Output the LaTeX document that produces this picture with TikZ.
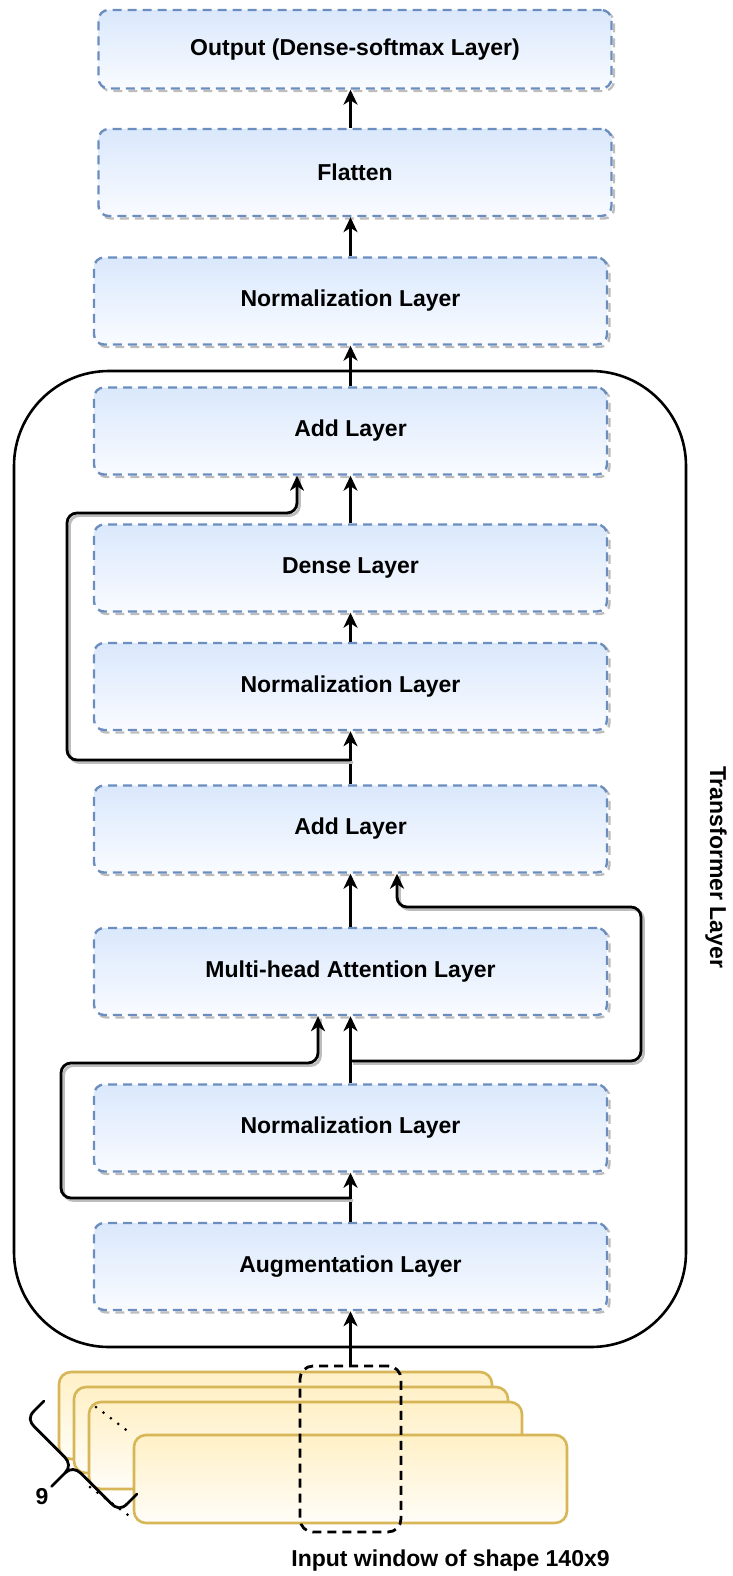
\documentclass[tikz,border=0pt]{standalone}
\usepackage{fontspec}
\setmainfont{Liberation Sans}
\usetikzlibrary{arrows.meta,calc}
\definecolor{bluetop}{HTML}{DAE8FC}
\definecolor{bluebot}{HTML}{F9FBFF}
\definecolor{blueline}{HTML}{6C8EBF}
\definecolor{yeltop}{HTML}{FFF0C6}
\definecolor{yelbot}{HTML}{FFFDF8}
\definecolor{yelline}{HTML}{D6B656}
\definecolor{shadowgray}{HTML}{BDBDBD}
\tikzset{
  lab/.style={font=\bfseries\fontsize{23}{27}\selectfont, inner sep=0pt},
  layer/.style={rectangle, rounded corners=10pt, draw=blueline, line width=2.4pt,
    dash pattern=on 9pt off 6pt, top color=bluetop, bottom color=bluebot,
    minimum width=513pt, minimum height=87pt, inner sep=0pt, lab,
    preaction={draw=shadowgray, line width=2.4pt, dash pattern=on 9pt off 6pt,
      transform canvas={shift={(2.5pt,-2.5pt)}}}},
  inrect/.style={rectangle, rounded corners=12pt, draw=yelline, line width=2.6pt,
    top color=yeltop, bottom color=yelbot, minimum width=433pt, minimum height=87pt, inner sep=0pt},
  window/.style={rectangle, rounded corners=13pt, draw=black, line width=2.8pt,
    dash pattern=on 9pt off 6pt, minimum width=101pt, minimum height=166pt, inner sep=0pt},
  conn/.style={line width=2.8pt, -{Stealth[length=15pt,width=14pt,inset=4.5pt]}},
  skip/.style={conn, rounded corners=10pt,
    preaction={draw=shadowgray, line width=2.8pt, -,
      transform canvas={shift={(2.5pt,-2.5pt)}}}},
  dots/.style={line width=3pt, line cap=round, dash pattern=on 0pt off 9.3pt},
}
\begin{document}
\begin{tikzpicture}[x=1pt,y=1pt]
\useasboundingbox (0,0) rectangle (733,-1576);
% transformer container
\node[draw, line width=2.6pt, rounded corners=95pt, minimum width=672pt, minimum height=976pt, inner sep=0pt] (tl) at (350,-859) {};
\node[lab, rotate=-90] (tlab) at (716,-867) {Transformer Layer};
% layers
\node[layer, minimum height=78.5pt] (out) at (355,-49.25) {Output (Dense-softmax Layer)};
\node[layer] (flat) at (355,-172.5) {Flatten};
\node[layer] (norm4) at (350.5,-301) {Normalization Layer};
\node[layer] (add2) at (350.5,-431) {Add Layer};
\node[layer] (dense) at (350.5,-568) {Dense Layer};
\node[layer] (norm2) at (350.5,-686.5) {Normalization Layer};
\node[layer] (add1) at (350.5,-829) {Add Layer};
\node[layer] (mha) at (350.5,-971.5) {Multi-head Attention Layer};
\node[layer] (norm1) at (350.5,-1128) {Normalization Layer};
\node[layer] (aug) at (350.5,-1266.5) {Augmentation Layer};
% input stack
\node[inrect] (ra) at (275.5,-1415.5) {};
\node[inrect, minimum width=434pt, minimum height=86pt] (rb) at (291,-1430) {};
\node[inrect] (rc) at (305.5,-1445.5) {};
\node[inrect, minimum height=88pt] (rd) at (350.5,-1479) {};
\draw[dots] (96,-1407) -- (133,-1435);
\draw[dots] (90,-1487) -- (128,-1515);
\node[window] (win) at (350.5,-1449) {};
\node[lab] (inlab) at (450.5,-1561) {Input window of shape 140x9};
\node[lab] (nine) at (42,-1497) {9};
% brace
\begin{scope}[shift={(44,-1401)}, rotate=-45]
\draw[line width=2.8pt, line cap=round, line join=round]
  (0,0) -- (0,-14) .. controls (0,-22) and (4,-25) .. (12,-25) -- (54,-25)
  .. controls (61,-25) and (65.75,-29) .. (65.75,-36)
  .. controls (65.75,-29) and (70.5,-25) .. (77.5,-25) -- (119.5,-25)
  .. controls (127.5,-25) and (131.5,-22) .. (131.5,-14) -- (131.5,0);
\draw[line width=2.8pt, line cap=round] (65.75,-36) -- (65.75,-55);
\end{scope}
% main connectors
\draw[conn] (norm4.north |- flat.north) -- (norm4.north |- out.south);
\draw[conn] (norm4.north) -- (norm4.north |- flat.south);
\draw[conn] (add2.north) -- (norm4.south);
\draw[conn] (dense.north) -- (add2.south);
\draw[conn] (norm2.north) -- (dense.south);
\draw[conn] (add1.north) -- (norm2.south);
\draw[conn] (mha.north) -- (add1.south);
\draw[conn] (norm1.north) -- (mha.south);
\draw[conn] (aug.north) -- (norm1.south);
\draw[conn] (win.north) -- (aug.south);
% residual connections
\coordinate (s1) at (350.5,-760);
\coordinate (s2) at (350.5,-1061);
\coordinate (s3) at (350.5,-1198);
\draw[skip] (s1) -| (67,-513) -| ($(add2.south)+(-53.5,0)$);
\draw[skip] (s2) -| (641,-907) -| ($(add1.south)+(46.5,0)$);
\draw[skip] (s3) -| (61,-1063) -| ($(mha.south)+(-32.5,0)$);
\end{tikzpicture}
\end{document}
